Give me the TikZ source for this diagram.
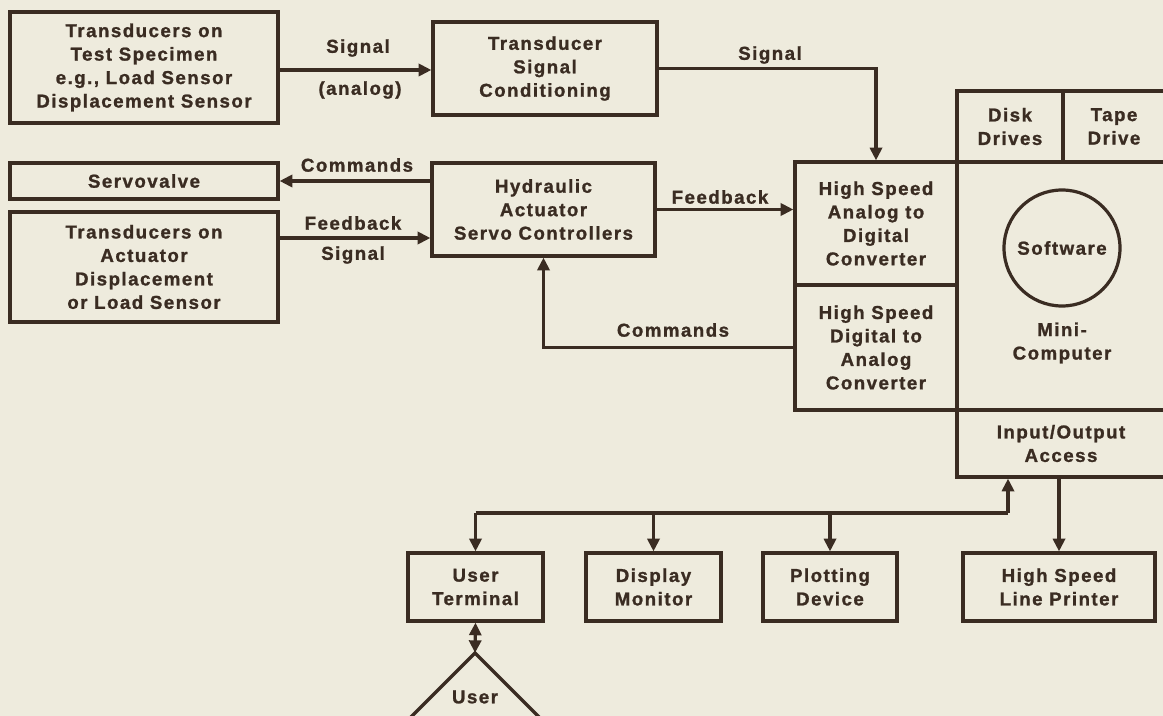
\documentclass[tikz,border=0pt]{standalone}
\usepackage{fontspec}
\setmainfont{Liberation Sans}[BoldFont={Liberation Sans Bold}, BoldFeatures={FakeBold=1.2}, LetterSpace=8]
\usetikzlibrary{arrows.meta}
\definecolor{bg}{RGB}{238,235,221}
\definecolor{ink}{RGB}{58,44,34}
\begin{document}
\begin{tikzpicture}[x=0.75pt,y=-0.75pt,
  txt/.style={text=ink, font=\fontsize{14}{17.6}\selectfont\bfseries, align=center, inner sep=0pt},
  box/.style={txt, draw=ink, line width=2.4pt},
  sz/.style 2 args={minimum width=#1*0.75pt, minimum height=#2*0.75pt},
  arr/.style={draw=ink, line width=2.4pt, -{Triangle[length=9.5pt,width=9pt]}},
  arrtwo/.style={draw=ink, line width=2.4pt, {Triangle[length=9.5pt,width=9pt]}-{Triangle[length=9.5pt,width=9pt]}},
  ln/.style={draw=ink, line width=2.4pt}]
\fill[bg] (0,0) rectangle (1163,716);
\useasboundingbox (0,0) rectangle (1163,716);
% left column
\node[box, sz={268}{111}] (spec) at (144,67.5) {Transducers on\\Test Specimen\\e.g., Load Sensor\\Displacement Sensor};
\node[box, sz={224}{93}] (cond) at (545,68.5) {Transducer\\Signal\\Conditioning};
\node[box, sz={268}{36}] (servo) at (144,181) {Servovalve};
\node[box, sz={268}{110}] (act) at (144,267) {Transducers on\\Actuator\\Displacement\\or Load Sensor};
\node[box, sz={223}{93}] (hyd) at (543.5,209.5) {Hydraulic\\Actuator\\Servo Controllers};
% computer block
\node[box, sz={208}{248}] (comp) at (1061,286) {};
\node[box, sz={106}{71}] (disk) at (1010,126.5) {Disk\\Drives};
\node[box, sz={102}{71}] (tape) at (1114,126.5) {Tape\\Drive};
\node[box, sz={162}{123}] (adc) at (876,223.5) {High Speed\\Analog to\\Digital\\Converter};
\node[box, sz={162}{125}] (dac) at (876,347.5) {High Speed\\Digital to\\Analog\\Converter};
\node[box, circle, minimum size=116*0.75pt] (soft) at (1062,248) {Software};
\node[txt] (mini) at (1062,343) {Mini-\\Computer};
\node[box, sz={208}{67}] (io) at (1061,443.5) {Input/Output\\Access};
% bottom row
\node[box, sz={135}{68}] (term) at (475.5,587) {User\\Terminal};
\node[box, sz={135}{68}] (disp) at (653.5,587) {Display\\Monitor};
\node[box, sz={134}{68}] (plot) at (830,587) {Plotting\\Device};
\node[box, sz={192}{68}] (prn) at (1059,587) {High Speed\\Line Printer};
% user triangle
\coordinate (apex) at (475,653);
\draw[ln, line join=miter] (apex) -- (385,743) -- (565,743) -- cycle;
\node[txt] (user) at (475,697) {User};
% connectors
\draw[arr] (spec.east |- 0,70) -- (cond.west |- 0,70);
\node[txt] (l1) at (358,48) {Signal};
\node[txt] (l2) at (360,90) {(analog)};
\draw[arr] (cond.east) -| (adc.north);
\node[txt] (l3) at (770,55) {Signal};
\draw[arr] (hyd.west |- servo.east) -- (servo.east);
\node[txt] (l4) at (357,165) {Commands};
\draw[arr] (act.east |- 0,238) -- (hyd.west |- 0,238);
\node[txt] (l5) at (353,223) {Feedback};
\node[txt] (l6) at (353,255) {Signal};
\draw[arr] (hyd.east) -- (hyd.east -| adc.west);
\node[txt] (l7) at (720,197) {Feedback};
\draw[arr] (dac.west) -| (hyd.south);
\node[txt] (l8) at (673,330) {Commands};
% bus
\coordinate (bl) at (475.5,513);
\coordinate (br) at (1008,513);
\draw[ln] (bl) -- (br);
\draw[arr] (bl) -- (term.north);
\draw[arr] (disp.north |- bl) -- (disp.north);
\draw[arr] (plot.north |- bl) -- (plot.north);
\draw[arr] (br) -- (br |- io.south);
\draw[arr] (prn.north |- io.south) -- (prn.north);
\draw[arrtwo] (term.south) -- (apex);
\end{tikzpicture}
\end{document}
